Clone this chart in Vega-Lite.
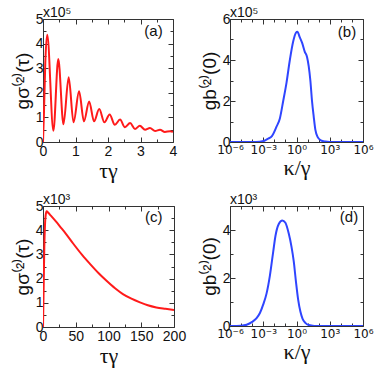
{
  "$schema": "https://vega.github.io/schema/vega-lite/v6.json",
  "padding": {"left": 12, "top": 5, "right": 2, "bottom": 2},
  "background": "white",
  "config": {
    "font": "Liberation Sans",
    "view": {"stroke": "#333", "strokeWidth": 1},
    "axis": {"labelFont": "Liberation Sans", "labelFontSize": 14, "labelColor": "#111", "titleFont": "Liberation Sans", "titleFontSize": 19, "titleFontWeight": "normal", "titleColor": "#111", "domain": false, "grid": false, "tickColor": "#333", "tickWidth": 1, "labelOverlap": false, "labelFlush": false},
    "axisX": {"labelPadding": 7, "titlePadding": 0, "titleFont": "Liberation Serif", "titleFontSize": 22},
    "axisY": {"labelPadding": 5, "titlePadding": 3},
    "title": {"font": "Liberation Sans", "fontSize": 14, "fontWeight": "normal", "color": "#111", "anchor": "start", "frame": "group", "offset": -8},
    "text": {"font": "Liberation Sans", "fontSize": 15, "fontWeight": "normal", "color": "#111"}
  },
  "columns": 2,
  "bounds": "flush",
  "spacing": {"row": 64, "column": 56},
  "concat": [
    {
      "width": 130, "height": 123,
      "title": "x10⁵",
      "data": {"values": [
        {"t":0,"g":0},{"t":0.03,"g":120000},{"t":0.07,"g":320000},{"t":0.13,"g":436000},{"t":0.32,"g":46000},{"t":0.47,"g":337000},{"t":0.63,"g":72000},{"t":0.79,"g":263000},{"t":0.94,"g":80000},{"t":1.11,"g":206000},{"t":1.26,"g":84000},{"t":1.42,"g":165000},{"t":1.57,"g":84000},{"t":1.73,"g":134000},{"t":1.89,"g":80000},{"t":2.05,"g":112000},{"t":2.21,"g":70000},{"t":2.37,"g":91000},{"t":2.52,"g":60000},{"t":2.68,"g":77000},{"t":2.83,"g":53000},{"t":2.98,"g":66000},{"t":3.14,"g":50000},{"t":3.29,"g":57000},{"t":3.45,"g":45000},{"t":3.6,"g":50000},{"t":3.75,"g":41000},{"t":3.91,"g":44000},{"t":4.0,"g":41000}
      ]},
      "resolve": {"axis": {"x": "independent", "y": "independent"}},
      "layer": [
        {
          "mark": {"type": "line", "color": "#ff1a1a", "strokeWidth": 2, "interpolate": "monotone", "clip": true},
          "encoding": {
            "x": {"field": "t", "type": "quantitative", "scale": {"domain": [0, 4], "nice": false},
              "axis": {"orient": "bottom", "title": "τγ", "values": [0,0.5,1,1.5,2,2.5,3,3.5,4], "labelExpr": "datum.value % 1 === 0 ? datum.value : ''", "tickSize": {"condition": {"test": "datum.value % 1 === 0", "value": -5}, "value": -3}}},
            "y": {"field": "g", "type": "quantitative", "scale": {"domain": [0, 500000], "nice": false},
              "axis": {"orient": "left", "title": "gσ⁽²⁾(τ)", "values": [0,50000,100000,150000,200000,250000,300000,350000,400000,450000,500000], "labelExpr": "datum.value % 100000 === 0 ? datum.value / 100000 : ''", "tickSize": {"condition": {"test": "datum.value % 100000 === 0", "value": -5}, "value": -3}}}
          }
        },
        {
          "mark": {"type": "line", "opacity": 0},
          "encoding": {
            "x": {"field": "t", "type": "quantitative", "axis": {"orient": "top", "title": null, "labels": false, "values": [0,0.5,1,1.5,2,2.5,3,3.5,4], "tickSize": {"condition": {"test": "datum.value % 1 === 0", "value": -5}, "value": -3}}},
            "y": {"field": "g", "type": "quantitative", "axis": {"orient": "right", "title": null, "labels": false, "values": [0,50000,100000,150000,200000,250000,300000,350000,400000,450000,500000], "tickSize": {"condition": {"test": "datum.value % 100000 === 0", "value": -5}, "value": -3}}}
          }
        },
        {
          "data": {"values": [{"label": "(a)"}]},
          "mark": {"type": "text", "align": "center", "baseline": "middle"},
          "encoding": {
            "x": {"datum": 3.4, "type": "quantitative", "axis": null},
            "y": {"datum": 450000, "type": "quantitative", "axis": null},
            "text": {"field": "label"}
          }
        }
      ]
    },
    {
      "width": 133, "height": 123,
      "title": "x10⁵",
      "data": {"values": [
        {"k":1e-6,"g":0},{"k":1e-4,"g":0},{"k":5.01e-4,"g":1500},{"k":1.26e-3,"g":6000},{"k":2.51e-3,"g":15000},{"k":6.31e-3,"g":30000},{"k":0.0158,"g":75000},{"k":0.0316,"g":115000},{"k":0.0631,"g":200000},{"k":0.126,"g":290000},{"k":0.251,"g":400000},{"k":0.501,"g":490000},{"k":0.891,"g":533000},{"k":1.2,"g":538000},{"k":2.0,"g":510000},{"k":3.16,"g":485000},{"k":5.62,"g":440000},{"k":8.91,"g":415000},{"k":12.6,"g":370000},{"k":17.8,"g":300000},{"k":25.1,"g":200000},{"k":35.5,"g":125000},{"k":50.1,"g":60000},{"k":79.4,"g":25000},{"k":158,"g":8000},{"k":398,"g":2000},{"k":1000,"g":0},{"k":1e6,"g":0}
      ]},
      "resolve": {"axis": {"x": "independent", "y": "independent"}},
      "layer": [
        {
          "mark": {"type": "line", "color": "#2f45ff", "strokeWidth": 2, "interpolate": "monotone", "clip": true},
          "encoding": {
            "x": {"field": "k", "type": "quantitative", "scale": {"type": "log", "domain": [1e-6, 1e6], "nice": false},
              "axis": {"orient": "bottom", "title": "κ/γ", "labelFont": "DejaVu Sans", "labelFontSize": 12, "values": [1e-6,1e-5,1e-4,1e-3,1e-2,1e-1,1,10,100,1000,1e4,1e5,1e6],
                "labelExpr": "round(log(datum.value)/LN10) === -6 ? '10⁻⁶' : round(log(datum.value)/LN10) === -3 ? '10⁻³' : round(log(datum.value)/LN10) === 0 ? '10⁰' : round(log(datum.value)/LN10) === 3 ? '10³' : round(log(datum.value)/LN10) === 6 ? '10⁶' : ''",
                "tickSize": {"condition": {"test": "abs(round(log(datum.value)/LN10)) % 3 === 0", "value": -5}, "value": -3}}},
            "y": {"field": "g", "type": "quantitative", "scale": {"domain": [0, 600000], "nice": false},
              "axis": {"orient": "left", "title": "gb⁽²⁾(0)", "values": [0,100000,200000,300000,400000,500000,600000], "labelExpr": "datum.value % 200000 === 0 ? datum.value / 100000 : ''", "tickSize": {"condition": {"test": "datum.value % 200000 === 0", "value": -5}, "value": -3}}}
          }
        },
        {
          "mark": {"type": "line", "opacity": 0},
          "encoding": {
            "x": {"field": "k", "type": "quantitative", "axis": {"orient": "top", "title": null, "labels": false, "values": [1e-6,1e-5,1e-4,1e-3,1e-2,1e-1,1,10,100,1000,1e4,1e5,1e6], "tickSize": {"condition": {"test": "abs(round(log(datum.value)/LN10)) % 3 === 0", "value": -5}, "value": -3}}},
            "y": {"field": "g", "type": "quantitative", "axis": {"orient": "right", "title": null, "labels": false, "values": [0,100000,200000,300000,400000,500000,600000], "tickSize": {"condition": {"test": "datum.value % 200000 === 0", "value": -5}, "value": -3}}}
          }
        },
        {
          "data": {"values": [{"label": "(b)"}]},
          "mark": {"type": "text", "align": "center", "baseline": "middle"},
          "encoding": {
            "x": {"datum": 36000, "type": "quantitative", "axis": null},
            "y": {"datum": 537000, "type": "quantitative", "axis": null},
            "text": {"field": "label"}
          }
        }
      ]
    },
    {
      "width": 131, "height": 121,
      "title": "x10³",
      "data": {"values": [
        {"t":0,"g":0},{"t":1,"g":1600},{"t":2,"g":3300},{"t":3,"g":4200},{"t":4,"g":4600},{"t":5.5,"g":4780},{"t":8,"g":4720},{"t":12,"g":4600},{"t":20,"g":4350},{"t":26,"g":4150},{"t":35,"g":3850},{"t":46,"g":3450},{"t":60,"g":2970},{"t":72,"g":2600},{"t":85,"g":2220},{"t":97,"g":1910},{"t":110,"g":1600},{"t":122,"g":1360},{"t":135,"g":1170},{"t":148,"g":1020},{"t":160,"g":900},{"t":173,"g":810},{"t":187,"g":750},{"t":200,"g":700}
      ]},
      "resolve": {"axis": {"x": "independent", "y": "independent"}},
      "layer": [
        {
          "mark": {"type": "line", "color": "#ff1a1a", "strokeWidth": 2, "interpolate": "monotone", "clip": true},
          "encoding": {
            "x": {"field": "t", "type": "quantitative", "scale": {"domain": [0, 200], "nice": false},
              "axis": {"orient": "bottom", "title": "τγ", "values": [0,25,50,75,100,125,150,175,200], "labelExpr": "datum.value % 50 === 0 ? datum.value : ''", "tickSize": {"condition": {"test": "datum.value % 50 === 0", "value": -5}, "value": -3}}},
            "y": {"field": "g", "type": "quantitative", "scale": {"domain": [0, 5000], "nice": false},
              "axis": {"orient": "left", "title": "gσ⁽²⁾(τ)", "values": [0,500,1000,1500,2000,2500,3000,3500,4000,4500,5000], "labelExpr": "datum.value % 1000 === 0 ? datum.value / 1000 : ''", "tickSize": {"condition": {"test": "datum.value % 1000 === 0", "value": -5}, "value": -3}}}
          }
        },
        {
          "mark": {"type": "line", "opacity": 0},
          "encoding": {
            "x": {"field": "t", "type": "quantitative", "axis": {"orient": "top", "title": null, "labels": false, "values": [0,25,50,75,100,125,150,175,200], "tickSize": {"condition": {"test": "datum.value % 50 === 0", "value": -5}, "value": -3}}},
            "y": {"field": "g", "type": "quantitative", "axis": {"orient": "right", "title": null, "labels": false, "values": [0,500,1000,1500,2000,2500,3000,3500,4000,4500,5000], "tickSize": {"condition": {"test": "datum.value % 1000 === 0", "value": -5}, "value": -3}}}
          }
        },
        {
          "data": {"values": [{"label": "(c)"}]},
          "mark": {"type": "text", "align": "center", "baseline": "middle"},
          "encoding": {
            "x": {"datum": 169, "type": "quantitative", "axis": null},
            "y": {"datum": 4550, "type": "quantitative", "axis": null},
            "text": {"field": "label"}
          }
        }
      ]
    },
    {
      "width": 133, "height": 120,
      "title": "x10³",
      "data": {"values": [
        {"k":1e-6,"g":0},{"k":1e-5,"g":10},{"k":3.16e-5,"g":50},{"k":1e-4,"g":170},{"k":2.51e-4,"g":330},{"k":5.01e-4,"g":540},{"k":1e-3,"g":900},{"k":2.0e-3,"g":1360},{"k":3.98e-3,"g":2100},{"k":7.94e-3,"g":3100},{"k":0.0126,"g":3750},{"k":0.0251,"g":4250},{"k":0.0525,"g":4400},{"k":0.1,"g":4300},{"k":0.2,"g":3850},{"k":0.355,"g":3300},{"k":0.562,"g":2700},{"k":0.891,"g":1850},{"k":1.41,"g":1100},{"k":2.24,"g":600},{"k":3.55,"g":300},{"k":6.31,"g":130},{"k":12.6,"g":40},{"k":39.8,"g":5},{"k":1000,"g":0},{"k":1e6,"g":0}
      ]},
      "resolve": {"axis": {"x": "independent", "y": "independent"}},
      "layer": [
        {
          "mark": {"type": "line", "color": "#2f45ff", "strokeWidth": 2, "interpolate": "monotone", "clip": true},
          "encoding": {
            "x": {"field": "k", "type": "quantitative", "scale": {"type": "log", "domain": [1e-6, 1e6], "nice": false},
              "axis": {"orient": "bottom", "title": "κ/γ", "labelFont": "DejaVu Sans", "labelFontSize": 12, "values": [1e-6,1e-5,1e-4,1e-3,1e-2,1e-1,1,10,100,1000,1e4,1e5,1e6],
                "labelExpr": "round(log(datum.value)/LN10) === -6 ? '10⁻⁶' : round(log(datum.value)/LN10) === -3 ? '10⁻³' : round(log(datum.value)/LN10) === 0 ? '10⁰' : round(log(datum.value)/LN10) === 3 ? '10³' : round(log(datum.value)/LN10) === 6 ? '10⁶' : ''",
                "tickSize": {"condition": {"test": "abs(round(log(datum.value)/LN10)) % 3 === 0", "value": -5}, "value": -3}}},
            "y": {"field": "g", "type": "quantitative", "scale": {"domain": [0, 5000], "nice": false},
              "axis": {"orient": "left", "title": "gb⁽²⁾(0)", "values": [0,1000,2000,3000,4000,5000], "labelExpr": "datum.value % 2000 === 0 ? datum.value / 1000 : ''", "tickSize": {"condition": {"test": "datum.value % 2000 === 0", "value": -5}, "value": -3}}}
          }
        },
        {
          "mark": {"type": "line", "opacity": 0},
          "encoding": {
            "x": {"field": "k", "type": "quantitative", "axis": {"orient": "top", "title": null, "labels": false, "values": [1e-6,1e-5,1e-4,1e-3,1e-2,1e-1,1,10,100,1000,1e4,1e5,1e6], "tickSize": {"condition": {"test": "abs(round(log(datum.value)/LN10)) % 3 === 0", "value": -5}, "value": -3}}},
            "y": {"field": "g", "type": "quantitative", "axis": {"orient": "right", "title": null, "labels": false, "values": [0,1000,2000,3000,4000,5000], "tickSize": {"condition": {"test": "datum.value % 2000 === 0", "value": -5}, "value": -3}}}
          }
        },
        {
          "data": {"values": [{"label": "(d)"}]},
          "mark": {"type": "text", "align": "center", "baseline": "middle"},
          "encoding": {
            "x": {"datum": 55000, "type": "quantitative", "axis": null},
            "y": {"datum": 4550, "type": "quantitative", "axis": null},
            "text": {"field": "label"}
          }
        }
      ]
    }
  ]
}
